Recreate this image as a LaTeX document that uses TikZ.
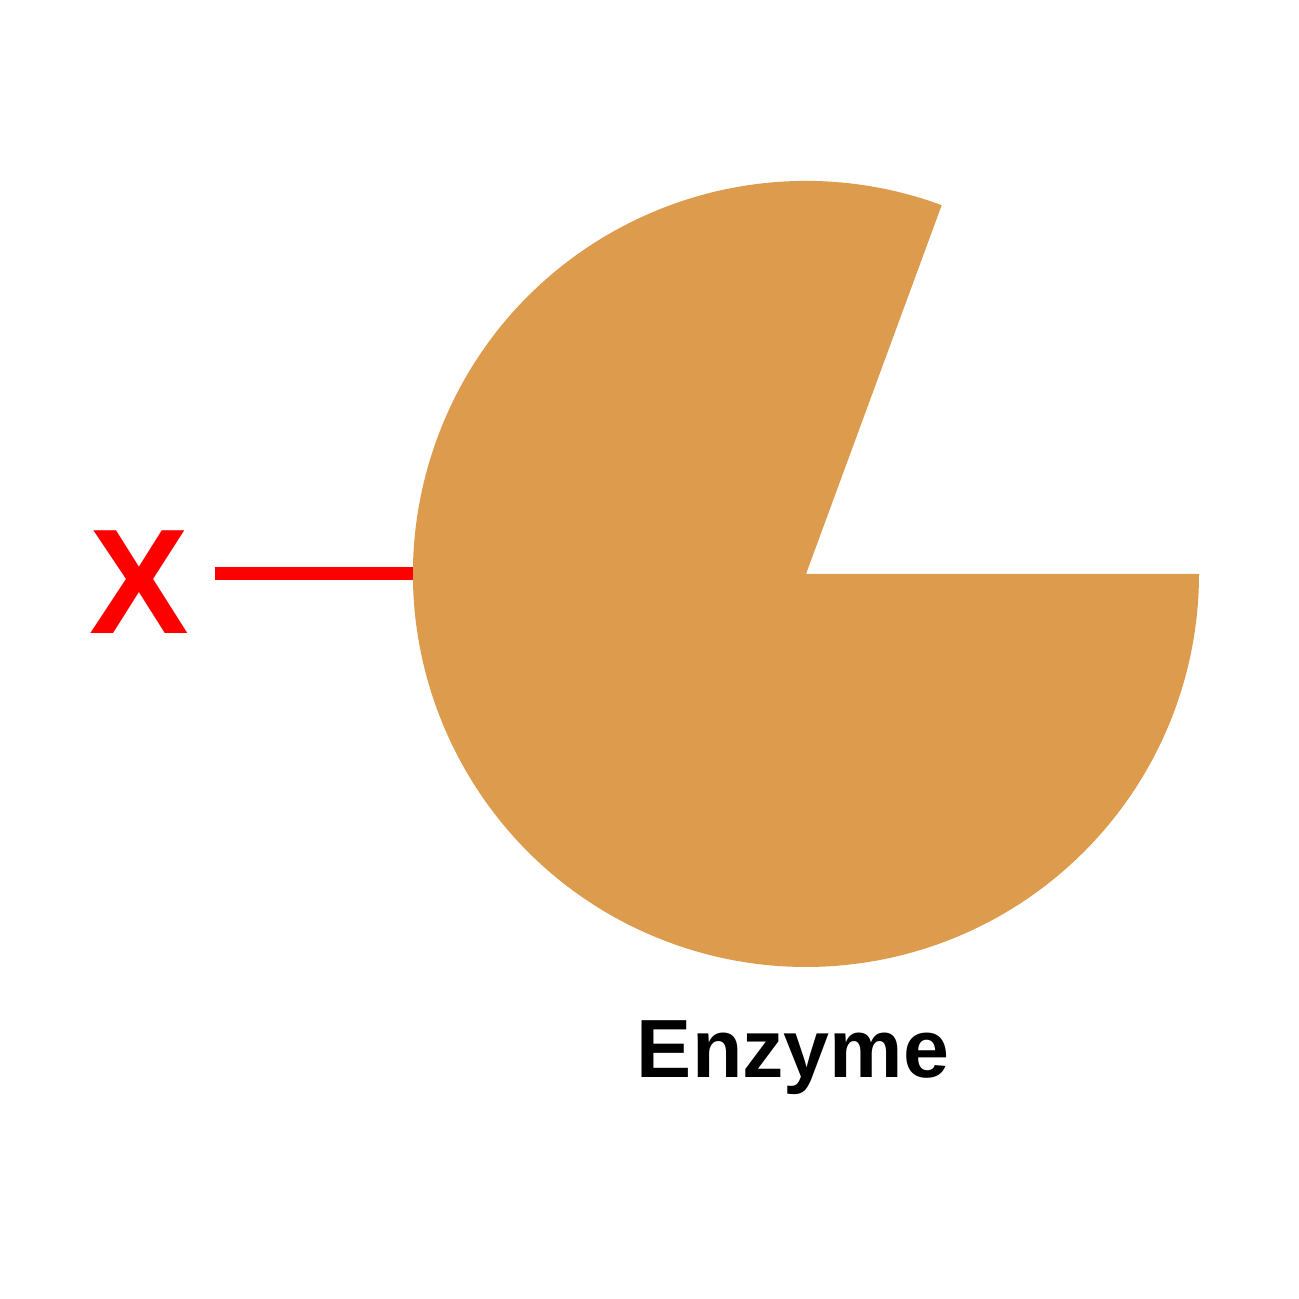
\documentclass[tikz,border=0pt]{standalone}
\usepackage{fontspec}
\setmainfont{Liberation Sans}
\usetikzlibrary{positioning}
\definecolor{enzcolor}{RGB}{221,155,78}
\definecolor{inhred}{RGB}{255,0,0}
\tikzset{
  enzyme/.style={fill=enzcolor, draw=none},
  inhibitor/.style={text=inhred, font=\bfseries\fontsize{42.5}{44}\selectfont, inner sep=0pt},
  bond/.style={draw=inhred, line width=0.13cm},
  enzlabel/.style={font=\bfseries\fontsize{23.5}{26}\selectfont, inner sep=0pt}
}
\begin{document}
\begin{tikzpicture}
 \useasboundingbox (0,0) rectangle (12.99,12.99);
 \coordinate (centre) at (8.06,7.25);
 \coordinate (enzleft) at (4.13,7.25);
 \fill[enzyme] (centre) -- ++(69.8:3.93) arc[start angle=69.8, end angle=360, radius=3.93] -- cycle;
 \node[inhibitor, anchor=base] (xlabel) at (1.39,6.65) {X};
 \draw[bond] ([xshift=0.25cm]xlabel.east |- enzleft) -- (enzleft);
 \node[enzlabel, anchor=base] (enzname) at (7.93,2.21) {Enzyme};
\end{tikzpicture}
\end{document}
